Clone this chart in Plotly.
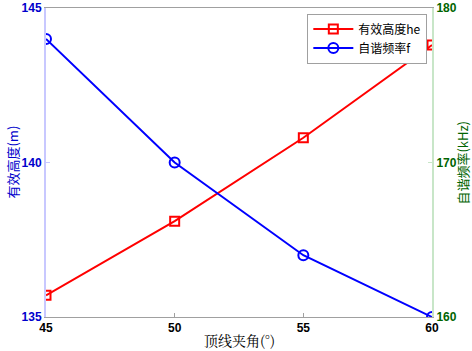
import plotly.graph_objects as go

angles = [45, 50, 55, 60]
height_he = [135.7, 138.1, 140.8, 143.8]
freq_f = [178.0, 170.0, 164.0, 160.0]
x_ticks = [45, 50, 55, 60]
left_ticks = [135, 140, 145]
right_ticks = [160, 170, 180]

fig = go.Figure()
fig.add_trace(go.Scatter(
    x=angles, y=height_he, name="有效高度he", mode="lines+markers",
    line=dict(color="#ff0000", width=2),
    marker=dict(symbol="square-open", size=9, color="#ff0000", line=dict(width=2)),
    yaxis="y"))
fig.add_trace(go.Scatter(
    x=angles, y=freq_f, name="自谐频率f", mode="lines+markers",
    line=dict(color="#0000ff", width=2),
    marker=dict(symbol="circle-open", size=10, color="#0000ff", line=dict(width=2)),
    yaxis="y2"))

tickfont_base = dict(family="Liberation Sans, Arial", size=12, weight="bold")

fig.update_layout(
    width=472, height=351,
    margin=dict(l=46, r=40, t=8, b=34),
    paper_bgcolor="white", plot_bgcolor="white",
    showlegend=True,
    legend=dict(x=0.677, y=0.982, xanchor="left", yanchor="top",
                bgcolor="white", bordercolor="#a0a0a0", borderwidth=1,
                font=dict(family="Noto Sans CJK SC, Liberation Sans", size=12, color="#000000"),
                tracegroupgap=0, itemwidth=40),
    xaxis=dict(range=[45, 60], tickvals=x_ticks, ticks="inside", ticklen=4,
               tickcolor="#a0a0a0", showline=True, linecolor="#a0a0a0", linewidth=1,
               mirror=True, showgrid=False, zeroline=False, automargin=False,
               tickfont=dict(tickfont_base, color="#000000")),
    yaxis=dict(range=[135, 145], tickvals=left_ticks, ticks="inside", ticklen=4,
               tickcolor="#c8c8ff", showline=True, linecolor="#c8c8ff", linewidth=2,
               showgrid=False, zeroline=False, automargin=False,
               tickfont=dict(tickfont_base, color="#0000cc")),
    yaxis2=dict(range=[160, 180], tickvals=right_ticks, overlaying="y", side="right",
                ticks="inside", ticklen=4, tickcolor="#c8e6c8", showline=True,
                linecolor="#c8e6c8", linewidth=2, showgrid=False, zeroline=False,
                automargin=False,
                tickfont=dict(tickfont_base, color="#006400")),
    annotations=[
        dict(text="顶线夹角(°)", xref="paper", yref="paper", x=0.5, y=-0.075,
             xanchor="center", yanchor="middle", showarrow=False,
             font=dict(family="Noto Serif CJK SC, Noto Sans CJK SC", size=14, color="#000000")),
        dict(text="有效高度(m)", xref="paper", yref="paper", x=-0.088, y=0.5,
             xanchor="center", yanchor="middle", showarrow=False, textangle=-90,
             font=dict(family="Noto Sans CJK SC", size=13, color="#0000cc")),
        dict(text="自谐频率(kHz)", xref="paper", yref="paper", x=1.078, y=0.5,
             xanchor="center", yanchor="middle", showarrow=False, textangle=-90,
             font=dict(family="Noto Sans CJK SC", size=13, color="#006400")),
    ],
)

fig.write_html("out.html", config={"displayModeBar": False},
               post_script="document.body.style.margin='0';document.body.style.overflow='hidden';")
